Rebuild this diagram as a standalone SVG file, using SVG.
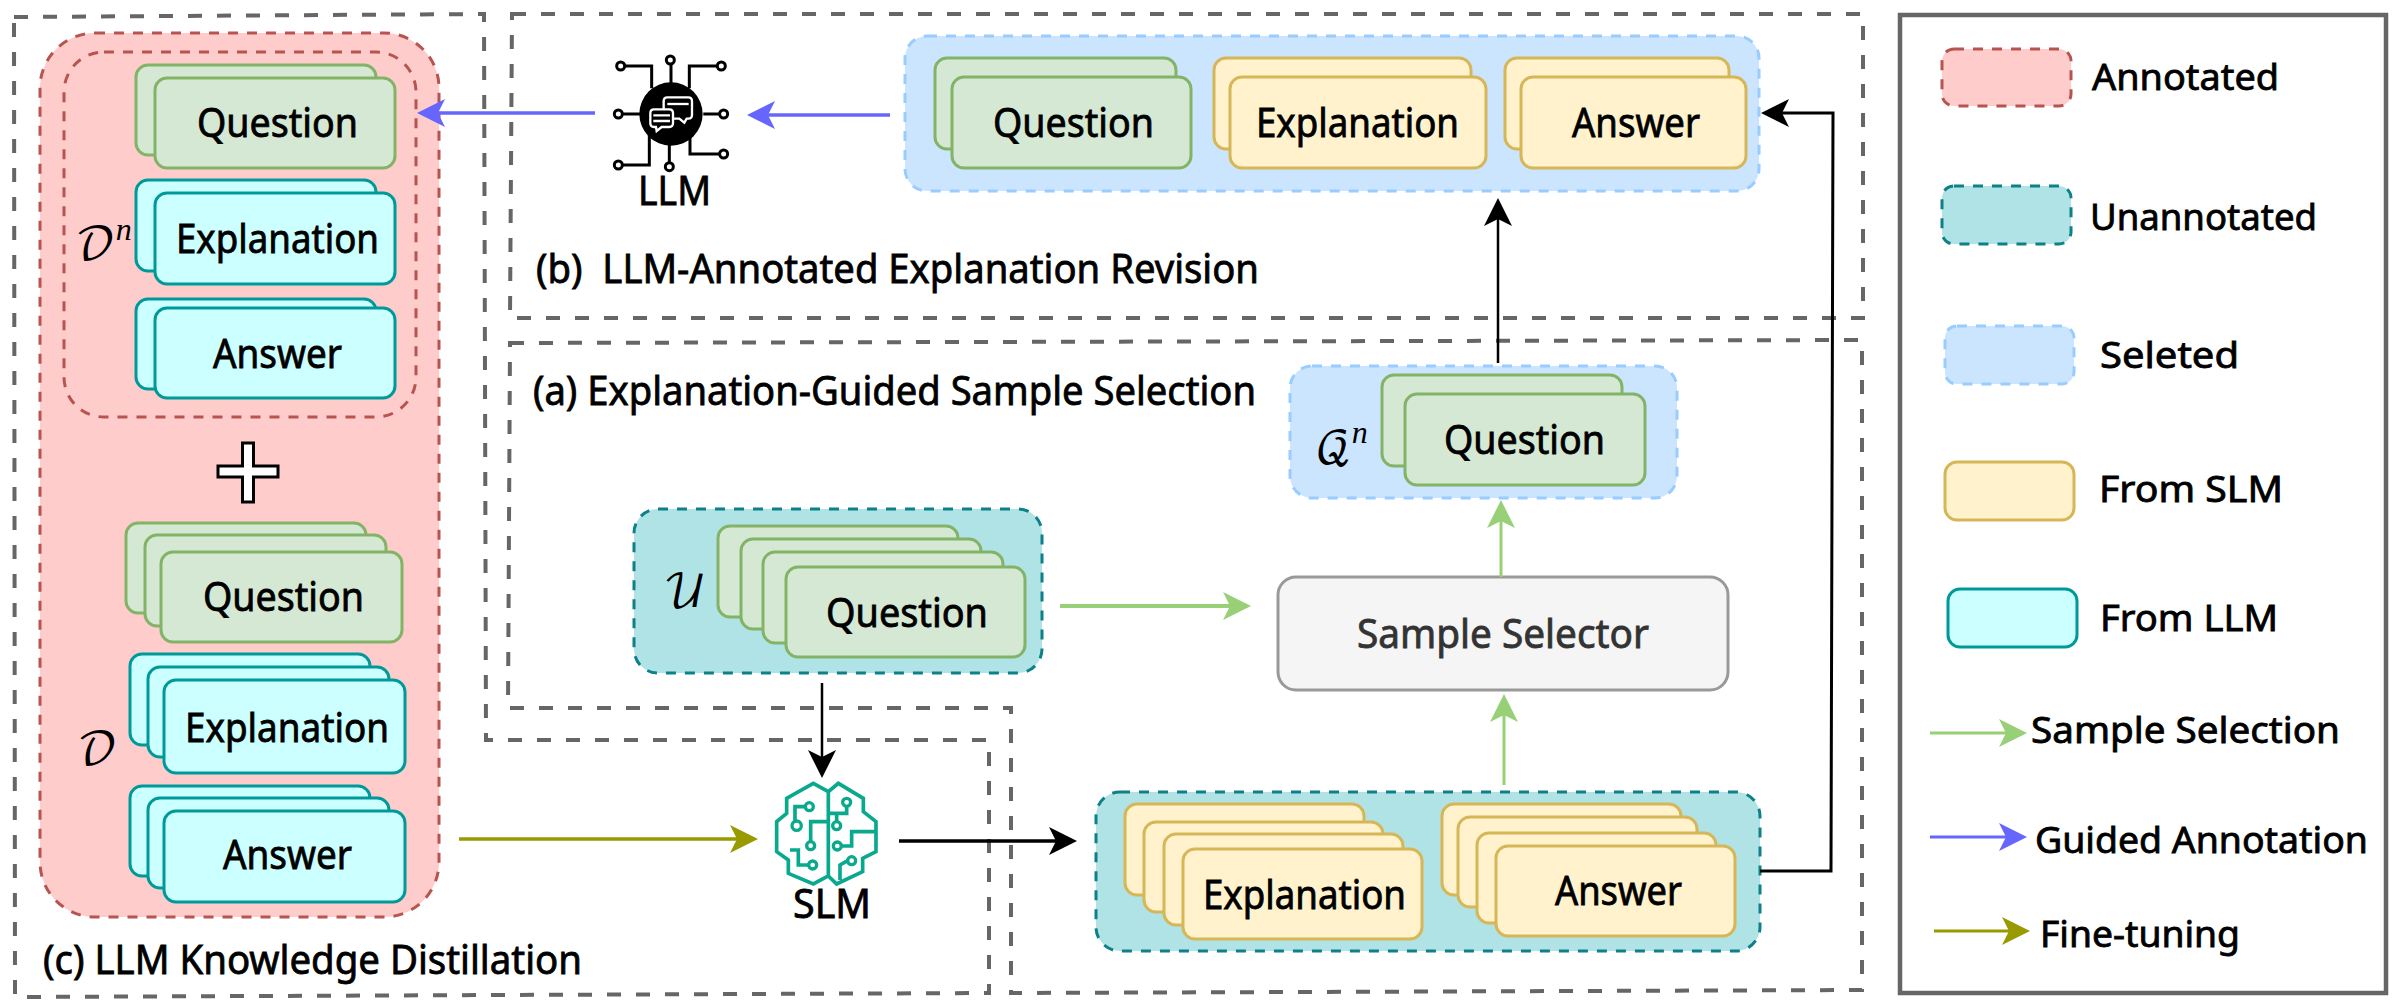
<svg xmlns="http://www.w3.org/2000/svg" width="2392" height="1004" viewBox="0 0 2392 1004">
<style>
text{font-family:"Noto Sans","DejaVu Sans",sans-serif;font-size:40px;fill:#000;stroke:#000;stroke-width:.8px;white-space:pre}
.m{font-family:"DejaVu Math TeX Gyre","DejaVu Serif","Liberation Serif",serif;font-size:44px;stroke:none}
.sup{font-family:"Liberation Serif",serif;font-style:italic;font-size:32px;stroke:none}
.lg{font-size:36px}
.panel{fill:none;stroke:#666;stroke-width:4;stroke-dasharray:14 15}
.pink{fill:#fcc;stroke:#b85450;stroke-width:3;stroke-dasharray:10 9}
.inner{fill:none;stroke:#b85450;stroke-width:3;stroke-dasharray:10 9}
.teal{fill:#b0e3e6;stroke:#0e8088;stroke-width:3;stroke-dasharray:10 9}
.blue{fill:#cce5ff;stroke:#99ccff;stroke-width:3;stroke-dasharray:10 9}
.q{fill:#d5e8d4;stroke:#82b366;stroke-width:3}
.y{fill:#fff2cc;stroke:#d6b656;stroke-width:3}
.c{fill:#ccffff;stroke:#009999;stroke-width:3}
.con{fill:none}
.br{fill:none;stroke:#0aa98e;stroke-width:11;stroke-linejoin:miter}
.bc{fill:#fff;stroke:#0aa98e;stroke-width:10}
</style>
<defs>
<marker id="hg" markerUnits="userSpaceOnUse" markerWidth="28" markerHeight="28" viewBox="0 0 28 28" refX="7" refY="14" orient="auto"><path d="M28 14L0 0L7 14L0 28Z" fill="#97d077"/></marker>
<marker id="hb" markerUnits="userSpaceOnUse" markerWidth="28" markerHeight="28" viewBox="0 0 28 28" refX="7" refY="14" orient="auto"><path d="M28 14L0 0L7 14L0 28Z" fill="#6666ff"/></marker>
<marker id="ho" markerUnits="userSpaceOnUse" markerWidth="28" markerHeight="28" viewBox="0 0 28 28" refX="7" refY="14" orient="auto"><path d="M28 14L0 0L7 14L0 28Z" fill="#999900"/></marker>
<marker id="hk" markerUnits="userSpaceOnUse" markerWidth="28" markerHeight="28" viewBox="0 0 28 28" refX="7" refY="14" orient="auto"><path d="M28 14L0 0L7 14L0 28Z" fill="#000"/></marker>
</defs>
<rect width="2392" height="1004" fill="#fff"/>

<g id="panels">
<path id="panel-c" class="panel" d="M14 17L484 14L486 740L989 740L989 993L15 997Z"/>
<path id="panel-b" class="panel" d="M512 14L1863 14L1863 318L510 318Z"/>
<path id="panel-a" class="panel" d="M510 343L1862 340L1862 990L1011 993L1011 708L508 708Z"/>
<text id="label-a" x="533" y="405" textLength="723" lengthAdjust="spacingAndGlyphs">(a) Explanation-Guided Sample Selection</text>
<text id="label-b" x="536" y="283" textLength="723" lengthAdjust="spacingAndGlyphs">(b)  LLM-Annotated Explanation Revision</text>
<text id="label-c" x="43" y="974" textLength="539" lengthAdjust="spacingAndGlyphs">(c) LLM Knowledge Distillation</text>
</g>

<g id="node-annotated">
<rect class="pink" x="40" y="33" width="399" height="884" rx="55"/>
<rect class="inner" x="64" y="52" width="352" height="365" rx="40"/>
<text class="m" x="75" y="260">𝒟<tspan class="sup" dy="-20">n</tspan></text>
<text class="m" x="77" y="765">𝒟</text>
</g>
<g id="node-dn-question">
<rect class="q" x="136" y="65" width="240" height="90" rx="12"/><rect class="q" x="155" y="78" width="240" height="90" rx="12"/>
<text x="197" y="137" textLength="161" lengthAdjust="spacingAndGlyphs">Question</text>
</g>
<g id="node-dn-explanation">
<rect class="c" x="136" y="180" width="240" height="91" rx="12"/><rect class="c" x="155" y="193" width="240" height="91" rx="12"/>
<text x="176" y="253" textLength="203" lengthAdjust="spacingAndGlyphs">Explanation</text>
</g>
<g id="node-dn-answer">
<rect class="c" x="136" y="299" width="240" height="90" rx="12"/><rect class="c" x="155" y="308" width="240" height="90" rx="12"/>
<text x="213" y="368" textLength="129" lengthAdjust="spacingAndGlyphs">Answer</text>
</g>
<g id="node-plus"><path d="M242.500 443H253.500V466H278V477H253.500V502H242.500V477H218V466H242.500Z" fill="#fff" stroke="#000" stroke-width="3"/></g>
<g id="node-d-question">
<rect class="q" x="126" y="523" width="240" height="90" rx="12"/><rect class="q" x="145" y="535" width="241" height="91" rx="12"/><rect class="q" x="161" y="552" width="241" height="90" rx="12"/>
<text x="203" y="611" textLength="161" lengthAdjust="spacingAndGlyphs">Question</text>
</g>
<g id="node-d-explanation">
<rect class="c" x="130" y="654" width="240" height="91" rx="12"/><rect class="c" x="148" y="667" width="241" height="90" rx="12"/><rect class="c" x="164" y="680" width="241" height="93" rx="12"/>
<text x="185" y="742" textLength="204" lengthAdjust="spacingAndGlyphs">Explanation</text>
</g>
<g id="node-d-answer">
<rect class="c" x="130" y="786" width="240" height="90" rx="12"/><rect class="c" x="148" y="798" width="241" height="90" rx="12"/><rect class="c" x="164" y="811" width="241" height="91" rx="12"/>
<text x="223" y="869" textLength="129" lengthAdjust="spacingAndGlyphs">Answer</text>
</g>

<g id="node-llm">
<g transform="translate(590 40) scale(.3333)">
<path d="M185 145V78H105M298 145V78H382M243 130V75M150 222H95M340 222H390M178 285V375H98M238 310V367M300 290V342H388" fill="none" stroke="#000" stroke-width="9"/>
<circle cx="243" cy="222" r="95" fill="#000"/>
<g fill="#fff" stroke="#000" stroke-width="9"><circle cx="92" cy="78" r="12"/><circle cx="394" cy="78" r="12"/><circle cx="241" cy="60" r="12"/><circle cx="85" cy="222" r="12"/><circle cx="401" cy="222" r="12"/><circle cx="85" cy="375" r="12"/><circle cx="238" cy="380" r="12"/><circle cx="401" cy="342" r="12"/></g>
<path d="M232 172H295Q306 172 306 183V225Q306 236 295 236H290L283 248L268 236H232Q221 236 221 225V183Q221 172 232 172Z" fill="#000" stroke="#fff" stroke-width="7"/>
<path d="M232 192H296" stroke="#fff" stroke-width="7" fill="none"/>
<path d="M192 208H238Q249 208 249 219V250Q249 261 238 261H215L200 273L198 261H192Q181 261 181 250V219Q181 208 192 208Z" fill="#000" stroke="#fff" stroke-width="7"/>
<path d="M190 226H240M190 243H240" stroke="#fff" stroke-width="7" fill="none"/>
</g>
<text x="638" y="205" textLength="73" lengthAdjust="spacingAndGlyphs">LLM</text>
</g>

<g id="node-selected">
<rect class="blue" x="905" y="36" width="854" height="155" rx="22"/>
<rect class="q" x="935" y="58" width="241" height="91" rx="12"/><rect class="q" x="952" y="77" width="239" height="91" rx="12"/>
<text x="993" y="137" textLength="161" lengthAdjust="spacingAndGlyphs">Question</text>
<rect class="y" x="1214" y="58" width="257" height="91" rx="12"/><rect class="y" x="1230" y="77" width="256" height="91" rx="12"/>
<text x="1256" y="137" textLength="203" lengthAdjust="spacingAndGlyphs">Explanation</text>
<rect class="y" x="1505" y="58" width="224" height="91" rx="12"/><rect class="y" x="1521" y="77" width="225" height="91" rx="12"/>
<text x="1572" y="137" textLength="128" lengthAdjust="spacingAndGlyphs">Answer</text>
</g>

<g id="node-qn">
<rect class="blue" x="1290" y="366" width="387" height="132" rx="22"/>
<rect class="q" x="1382" y="375" width="240" height="91" rx="12"/><rect class="q" x="1405" y="394" width="240" height="91" rx="12"/>
<text x="1444" y="454" textLength="161" lengthAdjust="spacingAndGlyphs">Question</text>
<text class="m" x="1315" y="463">𝒬<tspan class="sup" dy="-20">n</tspan></text>
</g>

<g id="node-u">
<rect class="teal" x="634" y="509" width="408" height="164" rx="24"/>
<rect class="q" x="718" y="526" width="240" height="91" rx="12"/><rect class="q" x="741" y="539" width="240" height="90" rx="12"/><rect class="q" x="763" y="552" width="240" height="91" rx="12"/><rect class="q" x="786" y="567" width="239" height="90" rx="12"/>
<text x="826" y="627" textLength="162" lengthAdjust="spacingAndGlyphs">Question</text>
<text class="m" x="663" y="607">𝒰</text>
</g>

<g id="node-selector">
<rect x="1278" y="577" width="450" height="113" rx="18" fill="#f5f5f5" stroke="#999" stroke-width="3"/>
<text x="1357" y="648" textLength="292" lengthAdjust="spacingAndGlyphs" style="fill:#333;stroke:#333">Sample Selector</text>
</g>

<g id="node-slm">
<g transform="translate(750 770) scale(.3333)">
<path class="br" d="M235 65L190 40L110 85V130L80 155V245L115 270V310L190 342L235 318L260 342L338 305V265L378 245V155L340 125V85L265 40ZV318"/>
<path class="br" d="M166 110H135V155M182 215V155H235M235 130H290V110M260 155V130M275 228H305V185H378M175 285H145V240H120M293 272L270 285V330"/>
<g class="bc"><circle cx="178" cy="110" r="12"/><circle cx="140" cy="167" r="14"/><circle cx="290" cy="97" r="12"/><circle cx="260" cy="167" r="12"/><circle cx="182" cy="227" r="12"/><circle cx="262" cy="228" r="12"/><circle cx="188" cy="285" r="12"/><circle cx="305" cy="272" r="12"/></g>
</g>
<text x="793" y="918" textLength="78" lengthAdjust="spacingAndGlyphs">SLM</text>
</g>

<g id="node-outputs">
<rect class="teal" x="1096" y="792" width="664" height="159" rx="24"/>
<rect class="y" x="1125" y="804" width="239" height="91" rx="12"/><rect class="y" x="1144" y="822" width="239" height="90" rx="12"/><rect class="y" x="1164" y="834" width="239" height="91" rx="12"/><rect class="y" x="1183" y="849" width="239" height="90" rx="12"/>
<text x="1203" y="909" textLength="203" lengthAdjust="spacingAndGlyphs">Explanation</text>
<rect class="y" x="1442" y="804" width="239" height="91" rx="12"/><rect class="y" x="1458" y="817" width="239" height="90" rx="12"/><rect class="y" x="1477" y="833" width="239" height="90" rx="12"/><rect class="y" x="1496" y="846" width="239" height="90" rx="12"/>
<text x="1555" y="905" textLength="127" lengthAdjust="spacingAndGlyphs">Answer</text>
</g>

<g id="connectors" class="con">
<path d="M595 113H438" stroke="#6666ff" stroke-width="3.500" marker-end="url(#hb)"/>
<path d="M890 115H768" stroke="#6666ff" stroke-width="3.500" marker-end="url(#hb)"/>
<path d="M1498 363V219" stroke="#000" stroke-width="2.500" marker-end="url(#hk)"/>
<path d="M1760 871L1831 871L1833 113H1782" stroke="#000" stroke-width="3" marker-end="url(#hk)"/>
<path d="M1060 606H1230" stroke="#97d077" stroke-width="4" marker-end="url(#hg)"/>
<path d="M1501 577V521" stroke="#97d077" stroke-width="3" marker-end="url(#hg)"/>
<path d="M1504 785V715" stroke="#97d077" stroke-width="3" marker-end="url(#hg)"/>
<path d="M822 683V757" stroke="#000" stroke-width="2.500" marker-end="url(#hk)"/>
<path d="M899 841H1056" stroke="#000" stroke-width="3.500" marker-end="url(#hk)"/>
<path d="M459 839H737" stroke="#999900" stroke-width="3.500" marker-end="url(#ho)"/>
</g>

<g id="legend">
<rect x="1900" y="15" width="486" height="978" fill="none" stroke="#666" stroke-width="4.500"/>
<g id="legend-annotated"><rect class="pink" x="1942" y="49" width="129" height="57" rx="12"/><text class="lg" x="2092" y="90" textLength="187" lengthAdjust="spacingAndGlyphs">Annotated</text></g>
<g id="legend-unannotated"><rect class="teal" x="1942" y="186" width="129" height="58" rx="12"/><text class="lg" x="2090" y="230" textLength="227" lengthAdjust="spacingAndGlyphs">Unannotated</text></g>
<g id="legend-selected"><rect class="blue" x="1945" y="326" width="129" height="58" rx="12"/><text class="lg" x="2100" y="368" textLength="139" lengthAdjust="spacingAndGlyphs">Seleted</text></g>
<g id="legend-slm"><rect class="y" x="1945" y="462" width="129" height="58" rx="12"/><text class="lg" x="2099" y="502" textLength="184" lengthAdjust="spacingAndGlyphs">From SLM</text></g>
<g id="legend-llm"><rect class="c" x="1948" y="589" width="129" height="58" rx="12"/><text class="lg" x="2100" y="631" textLength="178" lengthAdjust="spacingAndGlyphs">From LLM</text></g>
<g id="legend-selection"><path d="M1930 733H2006" stroke="#97d077" stroke-width="3" fill="none" marker-end="url(#hg)"/><text class="lg" x="2031" y="743" textLength="309" lengthAdjust="spacingAndGlyphs">Sample Selection</text></g>
<g id="legend-guided"><path d="M1930 837H2006" stroke="#6666ff" stroke-width="3" fill="none" marker-end="url(#hb)"/><text class="lg" x="2035" y="853" textLength="333" lengthAdjust="spacingAndGlyphs">Guided Annotation</text></g>
<g id="legend-fine"><path d="M1934 931H2009" stroke="#999900" stroke-width="3" fill="none" marker-end="url(#ho)"/><text class="lg" x="2040" y="947" textLength="200" lengthAdjust="spacingAndGlyphs">Fine-tuning</text></g>
</g>
</svg>
